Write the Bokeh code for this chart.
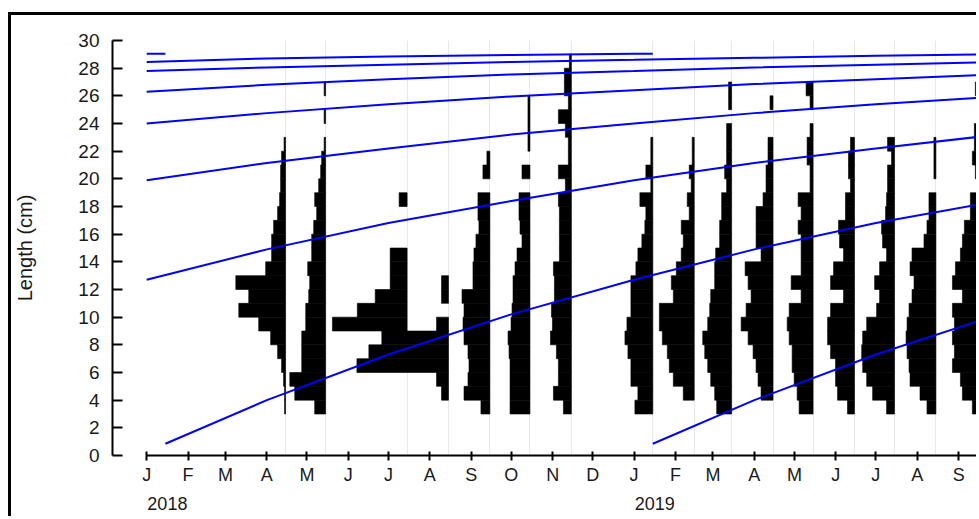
import pandas as pd
from bokeh.plotting import figure
from bokeh.models import FixedTicker, LinearAxis, ColumnDataSource, Range1d
from bokeh.embed import file_html
from bokeh.resources import INLINE

ORIGIN = pd.Timestamp("2018-01-01")


def day(s):
    return (pd.Timestamp(s) - ORIGIN).days


# ---------------- data ----------------
sample_dates = ["2018-04-15", "2018-05-15", "2018-07-15", "2018-08-15", "2018-09-15",
                "2018-10-15", "2018-11-15", "2019-01-15", "2019-02-15", "2019-03-15",
                "2019-04-15", "2019-05-15", "2019-06-15", "2019-07-15", "2019-08-15",
                "2019-09-15"]

# lower bounds of 1 cm length classes (3-4 cm ... 28-29 cm)
length_classes = list(range(3, 29))

freq_2018_04 = [1, 1, 2, 4, 8, 15, 27, 47, 37, 50, 20, 14, 14, 12, 8, 6, 5, 5, 4, 1.5, 0, 0, 0, 0, 0, 0]
freq_2018_05 = [11, 31, 36, 24, 24, 24, 20, 20, 17, 16, 18, 14, 14, 12, 9, 11, 7, 5, 4, 1.5, 0, 1.5, 0, 1.5, 0, 0]
freq_2018_07 = [0, 0, 0, 0, 0, 0, 75, 50, 32, 17, 17, 17, 0, 0, 0, 8, 0, 0, 0, 0, 0, 0, 0, 0, 0, 0]
freq_2018_08 = [0, 7, 12, 92, 80, 67, 12, 0, 7, 7, 0, 0, 0, 0, 0, 0, 0, 0, 0, 0, 0, 0, 0, 0, 0, 0]
freq_2018_09 = [9, 26, 22, 21, 22, 26, 27, 26, 28, 17, 17, 16, 14, 11, 12, 12, 0, 7, 3, 0, 0, 0, 0, 0, 0, 0]
freq_2018_10 = [20, 20, 20, 20, 21, 22, 19, 18, 17, 17, 15, 13, 8, 10, 11, 11, 0, 8, 0, 2, 2, 2, 2, 0, 0, 0]
freq_2018_11 = [8, 18, 13, 13, 15, 21, 19, 20, 17, 17, 18, 12, 12, 12, 12, 13, 6, 13, 3, 3, 6, 13, 3, 7, 7, 2]
freq_2019_01 = [18, 15, 22, 22, 25, 28, 26, 22, 22, 22, 17, 15, 11, 8, 7, 13, 2, 7, 2, 2, 0, 0, 0, 0, 0, 0]
freq_2019_02 = [0, 11, 21, 25, 27, 32, 35, 35, 21, 23, 18, 13, 11, 13, 5, 7, 3, 5, 2, 2, 0, 0, 0, 0, 0, 0]
freq_2019_03 = [15, 17, 21, 24, 27, 29, 24, 22, 21, 17, 17, 16, 12, 12, 10, 10, 5, 7, 5, 5, 5, 0, 3, 3, 0, 0]
freq_2019_04 = [0, 12, 15, 17, 20, 25, 32, 27, 22, 25, 28, 12, 17, 17, 17, 10, 7, 7, 5, 5, 0, 0, 3, 0, 0, 0]
freq_2019_05 = [14, 16, 19, 21, 21, 24, 26, 24, 12, 22, 12, 12, 12, 15, 12, 15, 3, 3, 6, 6, 3, 0, 3, 7, 0, 0]
freq_2019_06 = [7, 17, 19, 19, 24, 27, 27, 24, 11, 24, 21, 11, 15, 16, 9, 9, 4, 6, 6, 4, 0, 0, 0, 0, 0, 0]
freq_2019_07 = [8, 22, 28, 32, 33, 32, 28, 18, 15, 20, 15, 8, 12, 13, 9, 8, 7, 7, 3, 7, 0, 0, 0, 0, 0, 0]
freq_2019_08 = [9, 16, 26, 27, 29, 30, 29, 27, 24, 22, 26, 24, 12, 9, 7, 7, 0, 2, 2, 2, 0, 0, 0, 0, 0, 0]
freq_2019_09 = [5, 15, 17, 25, 23, 25, 23, 25, 15, 25, 22, 17, 15, 13, 7, 7, 0, 2, 5, 3, 3, 0, 0, 2, 0, 0]

sample_freqs = [freq_2018_04, freq_2018_05, freq_2018_07, freq_2018_08, freq_2018_09,
                freq_2018_10, freq_2018_11, freq_2019_01, freq_2019_02, freq_2019_03,
                freq_2019_04, freq_2019_05, freq_2019_06, freq_2019_07, freq_2019_08,
                freq_2019_09]

# growth curves (one per cohort): dates and lengths (cm)
quarters = ["2018-01-01", "2018-04-01", "2018-07-01", "2018-10-01",
            "2019-01-01", "2019-04-01", "2019-07-01", "2019-10-01"]
curve_2019_dates = ["2019-01-15", "2019-04-01", "2019-07-01", "2019-10-01"]
curve_2019_len = [0.85, 4.0, 7.3, 10.2]
curve_2018_dates = ["2018-01-15"] + quarters[1:]
curve_2018_len = [0.85, 4.0, 7.3, 10.2, 12.7, 14.9, 16.8, 18.4]
curve_2017_len = [12.7, 14.9, 16.8, 18.4, 19.9, 21.15, 22.2, 23.2]
curve_2016_len = [19.9, 21.15, 22.2, 23.2, 24.0, 24.75, 25.4, 25.95]
curve_2015_len = [24.0, 24.75, 25.4, 25.95, 26.4, 26.85, 27.2, 27.55]
curve_2014_len = [26.3, 26.8, 27.2, 27.55, 27.8, 28.05, 28.25, 28.45]
curve_2013_len = [27.8, 28.05, 28.25, 28.45, 28.6, 28.75, 28.9, 29.0]
curve_2012_dates = quarters[:5] + ["2019-01-15"]
curve_2012_len = [28.45, 28.7, 28.85, 28.95, 29.05, 29.05]
curve_2011_dates = ["2018-01-01", "2018-01-15"]
curve_2011_len = [29.05, 29.05]

month_starts = pd.date_range("2018-01-01", "2019-10-01", freq="MS")
month_letters = ["J", "F", "M", "A", "M", "J", "J", "A", "S", "O", "N", "D"]
year_ticks = ["2018-01-01", "2019-01-01"]
year_labels = ["2018", "2019"]

# ---------------- build ----------------
PX_PER_DAY = 1.3416
bar_scale = 1.0 / PX_PER_DAY  # days per frequency unit

left, right, bottom, top = [], [], [], []
for d, fr in zip(sample_dates, sample_freqs):
    x = day(d)
    for lc, f in zip(length_classes, fr):
        if f > 0:
            left.append(x - f * bar_scale)
            right.append(x)
            bottom.append(lc)
            top.append(lc + 1)
bars = ColumnDataSource(dict(left=left, right=right, bottom=bottom, top=top))

curves = [
    (curve_2011_dates, curve_2011_len),
    (curve_2012_dates, curve_2012_len),
    (quarters, curve_2013_len),
    (quarters, curve_2014_len),
    (quarters, curve_2015_len),
    (quarters, curve_2016_len),
    (quarters, curve_2017_len),
    (curve_2018_dates, curve_2018_len),
    (curve_2019_dates, curve_2019_len),
]
xs = [[day(d) for d in ds] for ds, _ in curves]
ys = [list(ls) for _, ls in curves]

FONT = "Liberation Sans"
TXT = "#1a1a1a"

x_start = -25.6
frame_w = 871
p = figure(width=968, height=504, output_backend="svg", toolbar_location=None,
           x_range=Range1d(x_start, x_start + frame_w / PX_PER_DAY),
           y_range=Range1d(0, 30),
           min_border_left=97, min_border_right=0, min_border_top=25, min_border_bottom=64)
p.styles = {"margin-left": "8px", "margin-top": "12px",
            "border-top": "3px solid black", "border-left": "3px solid black"}
p.outline_line_color = None
p.background_fill_color = "white"
p.border_fill_color = "white"

# grid at sample dates
p.xgrid.ticker = FixedTicker(ticks=[day(d) for d in sample_dates])
p.xgrid.grid_line_color = "#e8e8e8"
p.xgrid.grid_line_width = 1
p.ygrid.visible = False

p.quad(left="left", right="right", bottom="bottom", top="top", source=bars,
       fill_color="black", line_color="black", line_width=0.6)
p.multi_line(xs=xs, ys=ys, line_color="#0000ff", line_width=2)

# y axis
ya = p.yaxis[0]
ya.ticker = FixedTicker(ticks=list(range(0, 31, 2)))
ya.bounds = (0, 30)
ya.axis_line_width = 2
ya.major_tick_line_width = 2
ya.major_tick_in = 10
ya.major_tick_out = 0
ya.major_label_standoff = 13
ya.major_label_text_font = FONT
ya.major_label_text_font_size = "19px"
ya.major_label_text_color = TXT
ya.axis_label = "Length (cm)"
ya.axis_label_text_font = FONT
ya.axis_label_text_font_size = "20px"
ya.axis_label_text_font_style = "normal"
ya.axis_label_text_color = TXT
ya.axis_label_standoff = 39

# month axis
xa = p.xaxis[0]
month_days = [int((m - ORIGIN).days) for m in month_starts]
xa.ticker = FixedTicker(ticks=month_days)
xa.major_label_overrides = {d: month_letters[m.month - 1] for d, m in zip(month_days, month_starts)}
xa.bounds = (0, 700)
xa.axis_line_width = 2
xa.major_tick_line_width = 2
xa.major_tick_in = 4
xa.major_tick_out = 5
xa.major_label_standoff = 4
xa.major_label_text_font = FONT
xa.major_label_text_font_size = "18px"
xa.major_label_text_color = TXT

# year axis (labels start at the January tick)
year_label_shift = 15.5  # days, so the centred label starts at the tick
year_days = [day(d) + year_label_shift for d in year_ticks]
yr = LinearAxis(ticker=FixedTicker(ticks=year_days),
                major_label_overrides={d: l for d, l in zip(year_days, year_labels)},
                axis_line_color=None, major_tick_line_color=None,
                major_tick_in=0, major_tick_out=0,
                major_label_standoff=9,
                major_label_text_font=FONT, major_label_text_font_size="18px",
                major_label_text_color=TXT)
p.add_layout(yr, "below")

open("out.html", "w").write(file_html(p, INLINE))
